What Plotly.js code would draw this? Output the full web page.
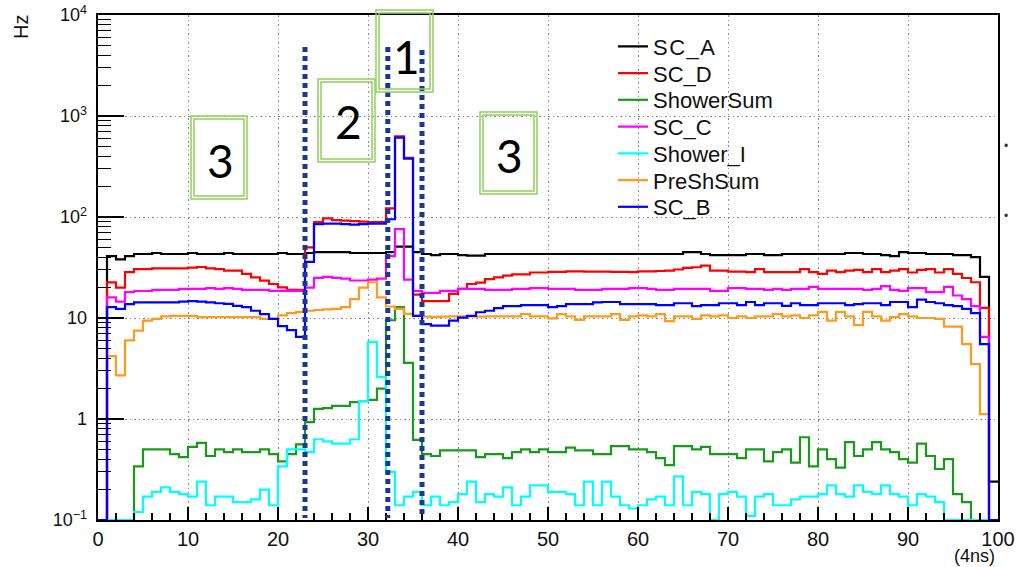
<!DOCTYPE html>
<html><head><meta charset="utf-8">
<script src="https://cdn.plot.ly/plotly-3.0.1.min.js"></script>
<style>html,body{margin:0;padding:0;background:#fff}#chart{width:1024px;height:567px}
#chart .legendtext{letter-spacing:1.5px}</style>
</head><body><div id="chart"></div>
<script>
// ---- data: rate (Hz) per 4 ns bin, bins 0..99 ----
const SC_A = [0,41,38,41,43,43,44,43,43,43, 44,43,43,43,44,43,43,43,43,43, 44,43,43,44,45,45,45,45,44,44, 44,44,45,51,51,45,43,42,43,43, 42,41.5,41.5,43,43,43,43,43,43,43, 43,43,43,43,43,43,43,43,43,43, 43,43,43,43,43,45,45,43,42,42, 42,42,43,43,42,42,43,43,43,43, 43,43,43,44,44,43,43,42,41,45, 44,44,43,43,43,42,42,40,25.5,0.24];
const SC_D = [0,22.5,20,28.5,30.5,30.5,31,31,31,31, 31.5,32,31,30.5,29.5,29.5,27.3,25.3,23.4,21.7, 20.1,19,19,50,89,97,93,92,91,90, 89,89,122,630,385,17,14.7,14.7,14.7,17.3, 19.4,21.7,22.4,24.3,25.3,26.3,27,27,28.2,28.2, 28.6,28.6,29,29,28.8,28.8,28.8,28.6,28.6,28.4, 29,29,29.2,29.5,30.2,31.3,31.8,33,29.4,29.4, 28.8,28.8,28.5,30.5,28.5,28.5,28.5,28.5,30.5,28.5, 27.4,29.5,28.5,29.5,30,28.5,30.5,28.5,29.5,30.5, 28.2,30,30.5,28.2,30.5,27.4,24.9,22.6,12.6,0];
const ShowerSum = [0,0,0,0,0.34,0.5,0.5,0.5,0.45,0.42, 0.53,0.58,0.43,0.5,0.47,0.5,0.47,0.47,0.5,0.45, 0.38,0.45,0.56,0.93,1.26,1.28,1.35,1.35,1.47,1.5, 1.55,2.0,9.5,12.8,3.6,0.62,0.45,0.43,0.49,0.49, 0.49,0.49,0.42,0.45,0.45,0.41,0.47,0.5,0.47,0.5, 0.47,0.47,0.52,0.49,0.49,0.45,0.45,0.54,0.54,0.5, 0.5,0.47,0.41,0.35,0.54,0.54,0.5,0.53,0.45,0.45, 0.45,0.41,0.5,0.5,0.38,0.47,0.5,0.37,0.66,0.34, 0.5,0.4,0.33,0.59,0.43,0.5,0.59,0.5,0.47,0.4, 0.37,0.57,0.43,0.32,0.4,0.18,0.15,0,0,0];
const SC_C = [0,16,14.5,18,18.5,18.5,19,19,19,19.4, 19.4,19.4,19.8,19.4,19.8,19.4,19,19,19,18.6, 18.6,18.6,18.6,20,25,25.5,25,24.5,23.5,23.5, 24,24.5,41,76,24,18.6,17.7,17.7,18.6,18.6, 19.4,19.4,19.4,19,19,19,19.4,19.4,19.8,19.8, 19.4,19.4,19.4,19,19,19,19.4,19.4,19.4,19.8, 19.8,19.4,19,19,19.4,19.4,19.4,19.4,18.6,18.6, 19.8,19.8,19.4,19.4,19,19.4,19,19.4,19.4,20.3, 19.4,19.4,19.4,19.4,19.4,19,19.4,20.7,19,18.6, 19.8,19.8,18,18,20.3,16.7,15.4,13.1,6.5,0];
const Shower_I = [0,0,0,0,0.12,0.17,0.19,0.21,0.19,0.18, 0.17,0.24,0.14,0.17,0.17,0.15,0.15,0.16,0.2,0.14, 0.34,0.5,0.5,0.47,0.63,0.6,0.57,0.57,0.63,1.5, 5.8,2.6,0.3,0.14,0.17,0.19,0.14,0.17,0.14,0.15, 0.18,0.24,0.15,0.18,0.17,0.21,0.14,0.17,0.22,0.22, 0.19,0.19,0.18,0.14,0.24,0.14,0.24,0.17,0.14,0.13, 0.14,0.16,0.17,0.14,0.27,0.14,0.19,0.18,0,0.18, 0.19,0.17,0.11,0.17,0.18,0.14,0.14,0.16,0.17,0.17, 0.18,0.22,0.18,0.17,0.22,0.19,0.18,0.22,0.18,0.17, 0.14,0.18,0.17,0.15,0,0,0,0,0,0];
const PreShSum = [0,4.2,2.7,6.0,7.5,9.4,9.8,10.4,10.5,10.5, 10.5,10.2,10.2,10.2,10.2,10.2,10.2,10.2,9.8,9.8, 10.6,11.2,11.5,11.8,12,12.2,12.3,12.8,15.4,20, 22.6,16,13,12.3,11,10.5,10.3,10.2,10.3,10.4, 10.4,10.4,10.3,10.4,10.4,10.4,10.4,10.9,10.4,10.4, 9.9,10.9,10.4,9.6,10.4,10.4,10.4,10.9,9.6,10.4, 10.6,10.4,10.9,9.3,10.4,10.4,9.8,10.6,10.4,10.6, 10,10.4,10,10.4,10.4,10.9,10.4,10.6,10,10.6, 11.5,9.4,11.5,10.4,8.5,11.5,10.4,9.4,10.2,10.9, 10.4,10,10,9.8,8.2,8.2,5.5,3.5,1.12,0];
const SC_B = [0,12.8,12.3,13.7,14.3,14.3,14.3,14.3,14.3,14.5, 14.7,14.5,14.3,14,13.8,13.2,12.8,11.8,10.9,9.8, 8.3,7.6,6.5,36,85,86,86,85,84,85, 86,86,95,610,378,10.5,8.7,8.4,8.4,9.4, 10.1,10.5,11.4,11.8,12.5,13.1,13.1,13.4,13.4,13.4, 12.8,13.1,13.7,13.7,13.7,14.3,14.4,14.4,13.7,13.7, 13.7,13.7,13.4,13.4,14,14,13.1,13.4,13.4,14, 14,13.4,14.4,13.4,14,14,13.2,14,13.4,13.4, 14,14,14,13.4,13.7,14,14,13.4,14.4,14.4, 12.8,15.2,14.4,14,13.4,13.1,12.3,11.2,5.5,0];

const seriesNames  = ['SC_A','SC_D','ShowerSum','SC_C','Shower_I','PreShSum','SC_B'];
const seriesValues = [SC_A, SC_D, ShowerSum, SC_C, Shower_I, PreShSum, SC_B];
const seriesColors = ['#000000','#ff0000','#1a9a1a','#ff00ff','#00ffff','#ff9a1a','#0000ff'];

// region markers (x in 4 ns units) and labels
const boundaryX   = [23.0, 32.2, 36.0];
const regionLabel = ['3','2','1','3'];

// ---- layout geometry (pixels) ----
const L = 98, T = 15, W = 900, H = 505;
const px2paperX = p => (p - L) / W;
const px2paperY = p => (T + H - p) / H;
const FLOOR = 0.1;

const edges = [];
for (let i = 0; i <= 100; i++) edges.push(i);

const legendIds = seriesNames.map((n, k) => k === 0 ? 'legend' : 'legend' + (k + 1));

const traces = seriesNames.map((name, k) => {
  const v = seriesValues[k];
  const y = v.concat([v[v.length - 1]]).map(a => a > 0 ? a : FLOOR);
  return {
    type: 'scatter', mode: 'lines', name: name,
    x: edges, y: y, legend: legendIds[k],
    line: {shape: 'hv', color: seriesColors[k], width: 2.2},
    hoverinfo: 'skip'
  };
});

const shapes = [];
// white legend panel hiding the grid
shapes.push({type: 'rect', xref: 'paper', yref: 'paper', layer: 'between',
  x0: px2paperX(610), x1: px2paperX(778), y0: px2paperY(216), y1: px2paperY(34),
  line: {width: 0}, fillcolor: '#ffffff'});
// dotted boundary lines
const lineTops = [47, 47, 50];
boundaryX.forEach((bx, i) => {
  shapes.push({type: 'line', xref: 'x', yref: 'paper', x0: bx, x1: bx,
    y0: px2paperY(lineTops[i]), y1: px2paperY(518),
    line: {color: '#1a3796', width: 5, dash: '5px,4px'}});
});
// green double-line boxes [left, top, right, bottom] in px
const boxes = [[191,116,247,199],[318,79,375,162],[376,10,433,92],[480,112,537,194]];
const labelPos = [[220,160],[348,122],[406,57],[509,155]];
boxes.forEach(b => {
  [0, 3].forEach(inset => {
    shapes.push({type: 'rect', xref: 'paper', yref: 'paper',
      x0: px2paperX(b[0] + inset), x1: px2paperX(b[2] - inset),
      y0: px2paperY(b[3] - inset), y1: px2paperY(b[1] + inset),
      line: {color: '#8fd15e', width: 1.5}, fillcolor: 'rgba(0,0,0,0)'});
  });
});

const annotations = regionLabel.map((t, i) => ({
  text: t, xref: 'paper', yref: 'paper',
  x: px2paperX(labelPos[i][0]), y: px2paperY(labelPos[i][1]),
  xanchor: 'center', yanchor: 'middle', showarrow: false,
  font: {family: 'Lato, "Open Sans", sans-serif', size: 46, color: '#000'}
}));
const axisFont = 'Liberation Sans, Arial, sans-serif';
annotations.push({text: 'Hz', xref: 'paper', yref: 'paper', x: px2paperX(21), y: px2paperY(27),
  textangle: -90, showarrow: false, xanchor: 'center', yanchor: 'middle',
  font: {family: axisFont, size: 20, color: '#111'}});
annotations.push({text: '(4ns)', xref: 'paper', yref: 'paper', x: px2paperX(974), y: px2paperY(544),
  showarrow: false, xanchor: 'center', yanchor: 'top',
  font: {family: axisFont, size: 18, color: '#111'}});
[146, 216].forEach(py => annotations.push({text: '•', xref: 'paper', yref: 'paper',
  x: px2paperX(1006), y: px2paperY(py), showarrow: false, xanchor: 'center', yanchor: 'middle',
  font: {family: axisFont, size: 12, color: '#333'}}));

const layout = {
  width: 1024, height: 567,
  margin: {l: L, r: 1024 - L - W, t: T, b: 567 - T - H, pad: 0},
  paper_bgcolor: '#fff', plot_bgcolor: '#fff',
  showlegend: true,
  xaxis: {range: [0, 100], tick0: 0, dtick: 10, ticks: 'inside', ticklen: 13, tickwidth: 1.5, tickcolor: '#000',
    minor: {dtick: 2, ticks: 'inside', ticklen: 7, tickwidth: 1.2, tickcolor: '#000', showgrid: false},
    showgrid: true, gridcolor: '#8a8a8a', gridwidth: 1, griddash: '1.5px,3px',
    showline: true, linewidth: 2, linecolor: '#000', mirror: true, zeroline: false,
    tickfont: {family: axisFont, size: 20, color: '#111'}},
  yaxis: {type: 'log', range: [-1, 4], dtick: 1, exponentformat: 'power',
    ticks: 'inside', ticklen: 26, tickwidth: 1.5, tickcolor: '#000', ticklabelstandoff: 6,
    minor: {dtick: 'D1', ticks: 'inside', ticklen: 13, tickwidth: 1.2, tickcolor: '#000', showgrid: false},
    showgrid: true, gridcolor: '#8a8a8a', gridwidth: 1, griddash: '1.5px,3px',
    showline: true, linewidth: 2, linecolor: '#000', mirror: true, zeroline: false,
    tickfont: {family: axisFont, size: 14.4, color: '#111'}},
  shapes: shapes,
  annotations: annotations
};
// one legend per entry so the row spacing matches the original
legendIds.forEach((id, k) => {
  layout[id] = {x: px2paperX(613), y: px2paperY(46.5 + 26.75 * k), xanchor: 'left', yanchor: 'middle',
    bgcolor: 'rgba(0,0,0,0)', borderwidth: 0,
    font: {family: axisFont, size: 22, color: '#111'}};
});

Plotly.newPlot('chart', traces, layout, {displayModeBar: false, staticPlot: true});
</script>
</body></html>
